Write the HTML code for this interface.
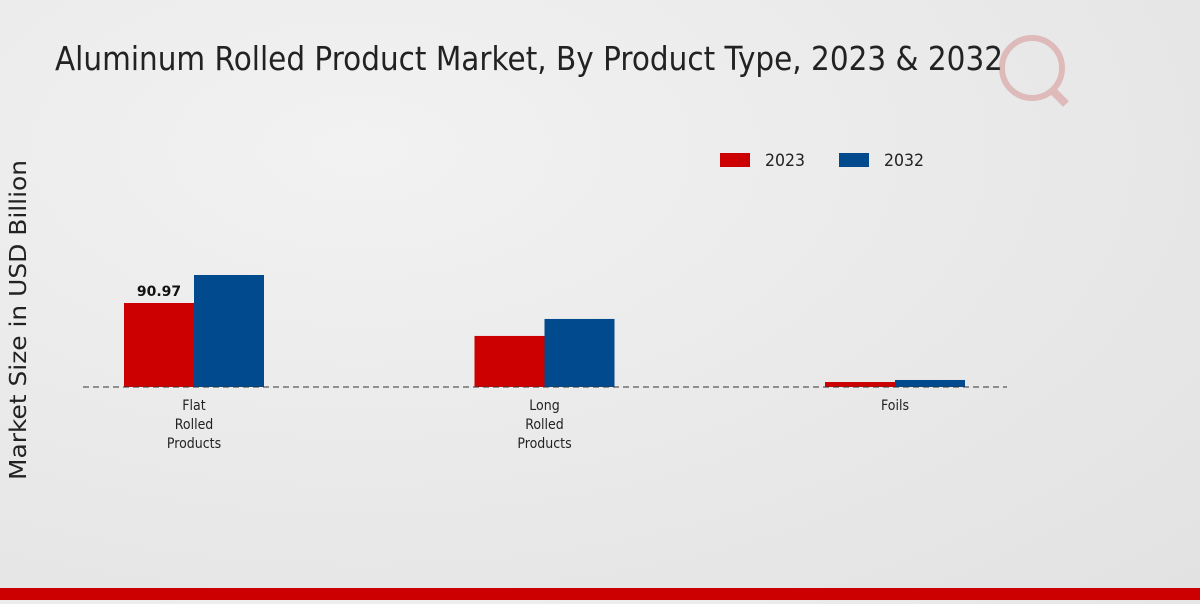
<!DOCTYPE html>
<html><head><meta charset="utf-8"><style>
html,body{margin:0;padding:0;}
body{width:1200px;height:600px;overflow:hidden;background:radial-gradient(ellipse at 30% 25%,#f2f2f2 0%,#e9e9e9 55%,#e2e2e2 100%);font-family:"DejaVu Sans","Liberation Sans",sans-serif;}
</style></head><body>
<svg width="1200" height="600" xmlns="http://www.w3.org/2000/svg">
<text x="55" y="70" font-size="33" fill="#222" textLength="948" lengthAdjust="spacingAndGlyphs">Aluminum Rolled Product Market, By Product Type, 2023 &amp; 2032</text>
<g opacity="0.35">
<circle cx="1032" cy="68" r="30" fill="none" stroke="#c66" stroke-width="6"/>
<line x1="1052" y1="90" x2="1066" y2="104" stroke="#c66" stroke-width="8"/>
</g>
<text transform="translate(26,320) rotate(-90)" text-anchor="middle" font-size="23" fill="#222" textLength="320" lengthAdjust="spacingAndGlyphs">Market Size in USD Billion</text>
<g>
<rect x="720" y="153" width="30" height="14" fill="#cc0000"/>
<text x="765" y="166" font-size="17" fill="#222" textLength="40" lengthAdjust="spacingAndGlyphs">2023</text>
<rect x="839" y="153" width="30" height="14" fill="#004a8d"/>
<text x="884" y="166" font-size="17" fill="#222" textLength="40" lengthAdjust="spacingAndGlyphs">2032</text>
</g>
<g id="plot"></g>
<rect x="0" y="588" width="1200" height="12" fill="#cc0000"/>
</svg>
<script>
const categories=[["Flat","Rolled","Products"],["Long","Rolled","Products"],["Foils"]];
const values2023=[90.97,55.3,5.4];
const values2032=[121.3,73.7,7.6];
const labels2023=["90.97",null,null];
const NS="http://www.w3.org/2000/svg";
const g=document.getElementById('plot');
const base=387, k=84/90.97;
const y=v=>base-v*k;
const cx=i=>194+i*350.5;
function mk(t,a){const e=document.createElementNS(NS,t);for(const n in a)e.setAttribute(n,a[n]);g.appendChild(e);return e;}
categories.forEach((c,i)=>{
 const r1=mk('rect',{x:cx(i)-70,y:y(values2023[i]),width:70,height:base-y(values2023[i]),fill:'#cc0000'});
 
 
 const r2=mk('rect',{x:cx(i),y:y(values2032[i]),width:70,height:base-y(values2032[i]),fill:'#004a8d'});
 
 
 c.forEach((w,j)=>{
  const t=mk('text',{x:cx(i),y:410+j*19,'text-anchor':'middle','font-size':14,fill:'#222',transform:'translate('+cx(i)+',0) scale(0.9,1) translate('+(-cx(i))+',0)'});
  t.textContent=w;
  
  
 });
 if(labels2023[i]){
  const t=mk('text',{x:cx(i)-35,y:y(values2023[i])-7,'text-anchor':'middle','font-size':14,'font-weight':'bold',fill:'#111'});
  t.textContent=labels2023[i];
  
  
 }
});
const l=mk('line',{x1:83,x2:1007,y1:base,y2:base,stroke:'#333','stroke-dasharray':'6,4','stroke-width':1});


</script>
</body></html>
